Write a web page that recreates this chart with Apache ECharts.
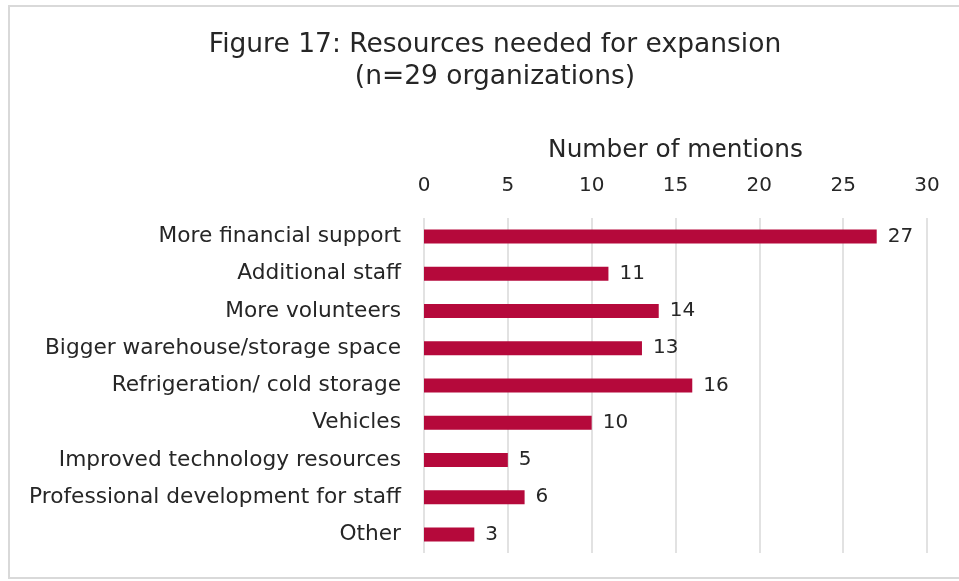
<!DOCTYPE html>
<html><head><meta charset="utf-8">
<script src="https://cdn.jsdelivr.net/npm/echarts@6/dist/echarts.min.js"></script>
<style>html,body{margin:0;padding:0;background:#fff}#c{width:959px;height:581px}</style>
</head><body><div id="c"></div>
<script>
var categories = ["More financial support","Additional staff","More volunteers","Bigger warehouse/storage space","Refrigeration/ cold storage","Vehicles","Improved technology resources","Professional development for staff","Other"];
var values = [27,11,14,13,16,10,5,6,3];
var titleText = "Figure 17: Resources needed for expansion\n(n=29 organizations)";
var axisName = "Number of mentions";
var FONT = "'DejaVu Sans', sans-serif";
var TXT = '#262626';
var chart = echarts.init(document.getElementById('c'), null, {renderer:'canvas'});
chart.setOption({
  backgroundColor:'#fff',
  animation:false,
  graphic:[{type:'rect',shape:{x:9,y:6,width:980,height:572},style:{fill:'none',stroke:'#d9d9d9',lineWidth:2},silent:true}],
  title:{text:titleText,left:490,top:24,textAlign:'center',textStyle:{fontFamily:FONT,fontSize:26.5,fontWeight:'normal',color:TXT,lineHeight:32}},
  grid:{left:424,right:32,top:218,bottom:28},
  xAxis:{type:'value',position:'top',min:0,max:30,interval:5,
    name:axisName,nameLocation:'middle',nameGap:55,nameTextStyle:{fontFamily:FONT,fontSize:24.8,color:TXT},
    axisLine:{show:false},axisTick:{show:false},
    axisLabel:{fontFamily:FONT,fontSize:20,color:TXT,margin:22},
    splitLine:{lineStyle:{color:'#d9d9d9',width:1.5}}},
  yAxis:{type:'category',inverse:true,data:categories,
    axisLine:{show:false},axisTick:{show:false},
    axisLabel:{fontFamily:FONT,fontSize:21.7,color:TXT,margin:23}},
  series:[{type:'bar',data:values,barWidth:14,itemStyle:{color:'#B5093B'},
    label:{show:true,position:'right',distance:11,fontFamily:FONT,fontSize:20,color:TXT}}]
});
</script></body></html>
